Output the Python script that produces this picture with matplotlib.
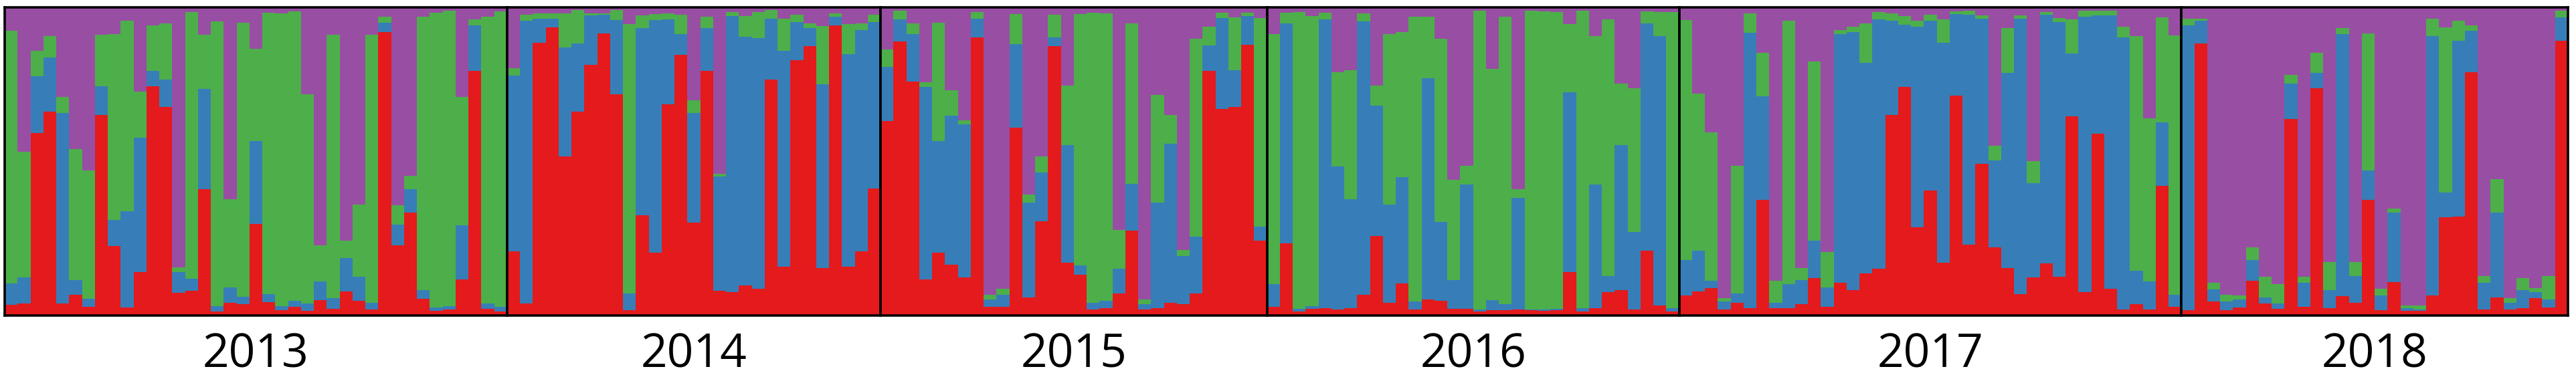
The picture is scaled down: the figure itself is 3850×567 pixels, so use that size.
import matplotlib.pyplot as plt
import numpy as np

# membership coefficients (q) per individual, cluster order: red, blue, green, purple(rest)
years = ['2013', '2014', '2015', '2016', '2017', '2018']

red_2013 = [.034, .039, .593, .661, .038, .068, .028, .650, .226, .026, .142, .745, .676, .073, .081, .409, .014, .042, .036, .297,
            .043, .018, .028, .016, .050, .021, .079, .047, .020, .920, .228, .333, .054, .016, .020, .118, .795, .021, .013]
blue_2013 = [.070, .085, .183, .176, .620, .046, .027, .095, .085, .313, .434, .049, .090, .067, .039, .326, .017, .049, .024, .269,
             .026, .013, .019, .023, .060, .036, .108, .079, .022, .031, .067, .076, .029, .010, .011, .175, .146, .018, .015]
green_2013 = [.821, .407, .083, .069, .051, .426, .415, .166, .602, .618, .151, .147, .181, .016, .864, .176, .924, .286, .891, .299,
              .914, .949, .940, .678, .117, .854, .056, .235, .869, .019, .064, .045, .886, .957, .958, .416, .020, .930, .959]

red_2014 = [.208, .040, .886, .934, .517, .661, .814, .916, .717, .017, .326, .204, .685, .846, .302, .794, .080, .076, .098, .087,
            .765, .159, .828, .874, .153, .942, .159, .209, .413]
blue_2014 = [.571, .916, .078, .030, .353, .222, .160, .060, .241, .054, .606, .754, .276, .068, .356, .138, .372, .896, .807, .814,
             .199, .700, .124, .058, .597, .027, .690, .718, .539]
green_2014 = [.024, .021, .017, .017, .111, .108, .007, .005, .033, .874, .042, .020, .020, .062, .041, .037, .007, .013, .066, .084,
              .027, .105, .024, .015, .190, .011, .096, .022, .024]

red_2015 = [.631, .889, .759, .117, .204, .164, .123, .902, .029, .028, .610, .058, .305, .875, .171, .133, .020, .024, .071, .276,
            .019, .024, .042, .036, .071, .795, .670, .676, .878, .244]
blue_2015 = [.177, .073, .154, .625, .363, .484, .498, .062, .024, .039, .270, .309, .160, .027, .383, .030, .021, .024, .081, .152,
             .018, .342, .515, .158, .185, .082, .295, .121, .094, .045]
green_2015 = [.056, .027, .036, .015, .384, .083, .013, .021, .014, .019, .098, .025, .052, .075, .193, .815, .941, .932, .126, .520,
              .014, .350, .093, .019, .641, .061, .017, .170, .010, .676]

red_2016 = [.028, .234, .013, .022, .024, .020, .024, .067, .258, .041, .104, .020, .051, .048, .022, .022, .013, .017, .017, .019,
            .017, .016, .017, .140, .013, .024, .077, .082, .019, .210, .033, .013]
blue_2016 = [.074, .714, .009, .009, .938, .463, .353, .887, .424, .319, .344, .026, .720, .255, .093, .403, .007, .032, .019, .362,
             .003, .004, .005, .584, .011, .401, .052, .472, .252, .738, .874, .011]
green_2016 = [.812, .034, .963, .941, .020, .307, .420, .026, .065, .554, .471, .924, .199, .595, .326, .061, .969, .751, .934, .028,
              .969, .967, .962, .222, .965, .482, .833, .198, .466, .039, .077, .960]

red_2017 = [.064, .078, .089, .020, .042, .024, .376, .024, .024, .036, .122, .029, .106, .082, .136, .152, .650, .742, .287, .406,
            .171, .713, .231, .492, .221, .153, .070, .123, .169, .126, .647, .075, .590, .086, .020, .036, .020, .421, .028]
blue_2017 = [.116, .132, .024, .026, .029, .893, .336, .017, .078, .080, .121, .062, .808, .838, .684, .808, .306, .201, .651, .550,
             .713, .265, .746, .472, .282, .634, .894, .307, .808, .827, .204, .895, .385, .889, .882, .109, .091, .205, .039]
green_2017 = [.778, .511, .481, .011, .415, .063, .141, .072, .854, .039, .581, .116, .013, .018, .128, .024, .024, .029, .018, .021,
              .078, .009, .012, .011, .049, .146, .011, .071, .007, .012, .109, .019, .014, .014, .036, .761, .528, .341, .842]

red_2018 = [.017, .882, .046, .017, .026, .112, .038, .022, .637, .029, .737, .024, .062, .041, .376, .017, .109, .015, .015, .064,
            .318, .321, .790, .019, .058, .020, .024, .057, .026, .891]
blue_2018 = [.925, .074, .038, .029, .025, .068, .020, .016, .116, .078, .051, .058, .852, .087, .094, .048, .225, .009, .005, .843,
             .081, .570, .135, .087, .277, .021, .058, .018, .025, .076]
green_2018 = [.022, .008, .022, .021, .013, .041, .068, .064, .028, .019, .065, .091, .019, .045, .445, .021, .014, .009, .013, .057,
              .535, .065, .017, .022, .108, .016, .040, .014, .078, .022]

reds = [red_2013, red_2014, red_2015, red_2016, red_2017, red_2018]
blues = [blue_2013, blue_2014, blue_2015, blue_2016, blue_2017, blue_2018]
greens = [green_2013, green_2014, green_2015, green_2016, green_2017, green_2018]

c_red, c_blue, c_green, c_purple = '#E41A1C', '#377EB8', '#4DAF4A', '#984EA3'

W, H = 3850, 567
fig = plt.figure(figsize=(W / 100, H / 100), dpi=100)

# pixel layout of the strip
x0, x1 = 7, 3838
y_top, y_bot = 11, 472
n_total = sum(len(r) for r in reds)
px_per_bar = (x1 - x0) / n_total

left = x0
for yr, r, b, g in zip(years, reds, blues, greens):
    n = len(r)
    r, b, g = np.array(r), np.array(b), np.array(g)
    p = 1 - r - b - g
    w = n * px_per_bar
    ax = fig.add_axes([left / W, (H - y_bot) / H, w / W, (y_bot - y_top) / H])
    x = np.arange(n)
    kw = dict(width=1.0, linewidth=0, antialiased=False)
    ax.bar(x, r, color=c_red, **kw)
    ax.bar(x, b, bottom=r, color=c_blue, **kw)
    ax.bar(x, g, bottom=r + b, color=c_green, **kw)
    ax.bar(x, p, bottom=r + b + g, color=c_purple, **kw)
    ax.set_xlim(-0.5, n - 0.5)
    ax.set_ylim(0, 1)
    ax.set_xticks([])
    ax.set_yticks([])
    for s in ax.spines.values():
        s.set_linewidth(2.6)
        s.set_color('black')
    ax.text(0.5, -0.168, yr, transform=ax.transAxes, ha='center', va='baseline',
            fontsize=50, family='Open Sans')
    left += w

fig.savefig('out.png', dpi=100)
